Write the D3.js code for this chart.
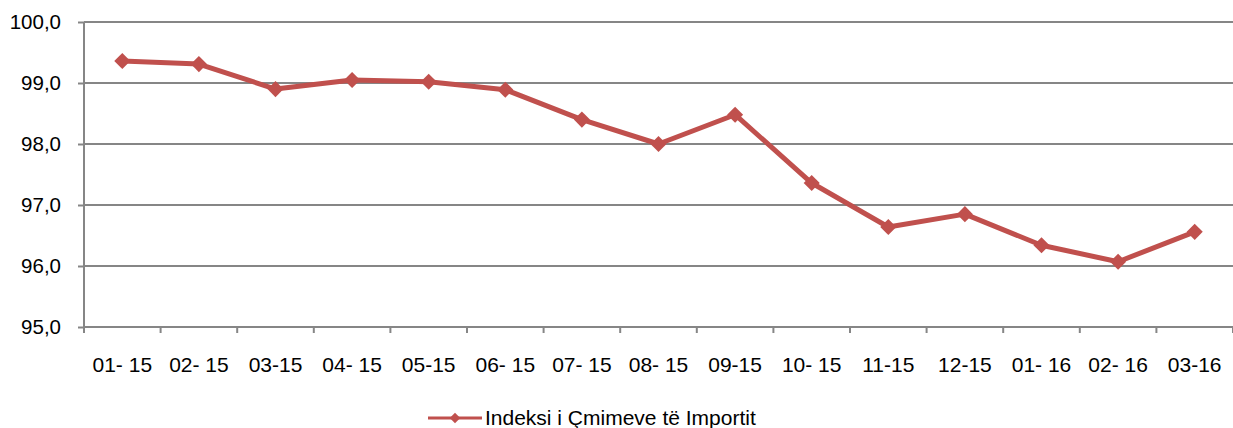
<!DOCTYPE html>
<html lang="en">
<head>
    <meta charset="utf-8">
    <script src="https://d3js.org/d3.v7.min.js"></script>
    <title>Indeksi i Çmimeve të Importit</title>
    <style>
        body {margin: 0; background: #fff;}
        svg {display: block; font-family: Arial, "Liberation Sans", sans-serif;}
        .axis text {fill: #000;}
        .axis path, .axis line {stroke: #868686; stroke-width: 2;}
        .grid line {stroke: #868686; stroke-width: 2;}
    </style>
</head>
<body>
<svg width="1233" height="428"></svg>

<script>
    // muajt dhe vlerat e indeksit
    var months = ['01- 15', '02- 15', '03-15', '04- 15', '05-15', '06- 15', '07- 15', '08- 15',
        '09-15', '10- 15', '11-15', '12-15', '01- 16', '02- 16', '03-16'];
    var values = [99.36, 99.31, 98.90, 99.05, 99.02, 98.89, 98.40, 98.00,
        98.48, 97.36, 96.64, 96.85, 96.34, 96.07, 96.56];
    var yTicks = [95, 96, 97, 98, 99, 100];
    var seriesName = 'Indeksi i Çmimeve të Importit';

    var color = '#c0504d';
    var mLeft = 84, mRight = 1233, mTop = 22, mBottom = 327;

    var svg = d3.select('svg');

    var x = d3.scaleBand().domain(months).range([mLeft, mRight]);
    var y = d3.scaleLinear().domain([95, 100]).range([mBottom, mTop]);

    // rrjeta horizontale
    svg.append('g').attr('class', 'grid')
        .selectAll('line').data(yTicks.slice(1)).enter().append('line')
        .attr('x1', mLeft).attr('x2', mRight)
        .attr('y1', d => y(d)).attr('y2', d => y(d));

    // boshti y
    svg.append('g').attr('class', 'axis')
        .attr('transform', 'translate(' + mLeft + ',0)')
        .call(d3.axisLeft(y).tickValues(yTicks).tickSize(6).tickPadding(17)
            .tickFormat(d => d3.format('.1f')(d).replace('.', ',')))
        .call(g => g.select('.domain').attr('d', 'M0,' + mTop + 'V' + mBottom))
        .call(g => g.selectAll('text').attr('font-size', 20.5).attr('font-family', null));

    // boshti x
    var xAxis = svg.append('g').attr('class', 'axis')
        .attr('transform', 'translate(0,' + mBottom + ')');
    xAxis.append('line').attr('x1', mLeft).attr('x2', mRight);
    xAxis.selectAll('.tk').data(months.concat(['end'])).enter().append('line')
        .attr('class', 'tk')
        .attr('x1', (d, i) => mLeft + i * x.bandwidth())
        .attr('x2', (d, i) => mLeft + i * x.bandwidth())
        .attr('y1', 0).attr('y2', 6);
    xAxis.selectAll('text').data(months).enter().append('text')
        .attr('x', d => x(d) + x.bandwidth() / 2)
        .attr('y', 45)
        .attr('font-size', 21)
        .attr('text-anchor', 'middle')
        .text(d => d);

    // vija
    var line = d3.line()
        .x((d, i) => x(months[i]) + x.bandwidth() / 2)
        .y(d => y(d));

    svg.append('path').datum(values)
        .attr('d', line)
        .attr('fill', 'none')
        .attr('stroke', color)
        .attr('stroke-width', 5)
        .attr('stroke-linejoin', 'round');

    var diamond = d3.symbol().type(d3.symbolDiamond2).size(165);
    svg.selectAll('.pt').data(values).enter().append('path')
        .attr('class', 'pt')
        .attr('d', diamond)
        .attr('fill', color)
        .attr('transform', (d, i) => 'translate(' + (x(months[i]) + x.bandwidth() / 2) + ',' + y(d) + ')');

    // legjenda
    var lg = svg.append('g').attr('transform', 'translate(428,418)');
    lg.append('line').attr('x1', 0).attr('x2', 54)
        .attr('stroke', color).attr('stroke-width', 3);
    lg.append('path').attr('d', d3.symbol().type(d3.symbolDiamond2).size(70))
        .attr('transform', 'translate(27,0)').attr('fill', color);
    lg.append('text').attr('x', 57).attr('y', 7)
        .attr('font-size', 21).text(seriesName);
</script>
</body>
</html>
